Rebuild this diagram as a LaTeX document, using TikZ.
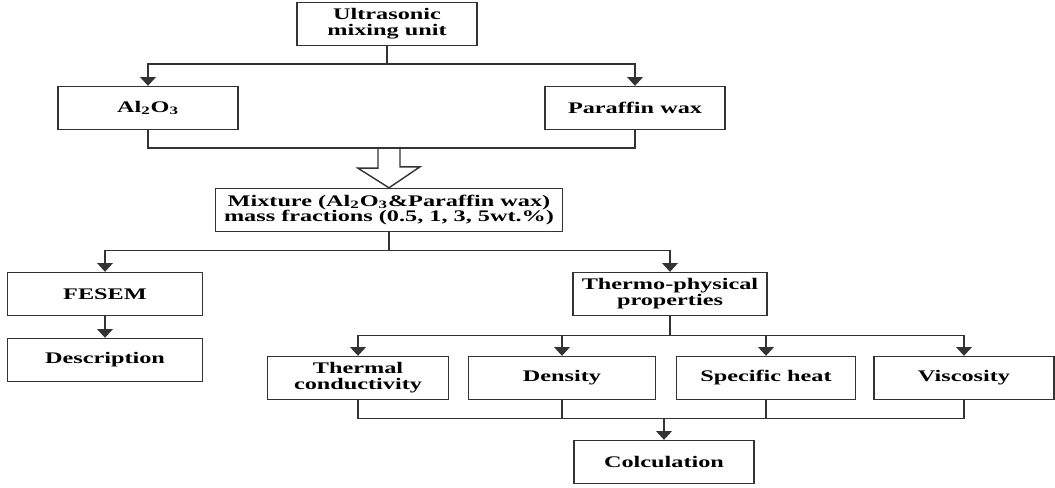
\documentclass[tikz,border=0pt]{standalone}
\usepackage{fontspec}
\setmainfont{Liberation Serif}[FakeStretch=1.5]
\usetikzlibrary{arrows.meta}
\begin{document}
\begin{tikzpicture}[x=0.02cm,y=-0.02cm,
		box/.style={draw=black!80,line width=0.8pt,minimum width=3.6cm,minimum height=0.86cm,align=center,inner sep=1pt,
			font=\fontsize{9.2}{9}\selectfont\bfseries},
		line/.style={draw=black!80,line width=0.8pt},
		arr/.style={line,-{Triangle[width=9pt,length=5pt]}}]
		\useasboundingbox (0,0) rectangle (1055,487);
		\node[box] (ultra) at (387,24) {Ultrasonic\\mixing unit};
		\node[box] (al) at (148,108) {Al\textsubscript{2}O\textsubscript{3}};
		\node[box] (par) at (635,108) {Paraffin wax};
		\node[box,minimum width=6.94cm] (mix) at (389,210) {Mixture (Al\textsubscript{2}O\textsubscript{3}\&Paraffin wax)\\mass fractions (0.5, 1, 3, 5wt.\%)};
		\node[box,minimum width=3.9cm] (fesem) at (105,294) {FESEM};
		\node[box,minimum width=3.9cm] (desc) at (105,360) {Description};
		\node[box,minimum width=3.88cm] (thermo) at (670,294) {Thermo-physical\\properties};
		\node[box,minimum width=3.62cm] (tc) at (358,378) {Thermal\\conductivity};
		\node[box,minimum width=3.74cm] (dens) at (562,378) {Density};
		\node[box,minimum width=3.58cm] (spec) at (766,378) {Specific heat};
		\node[box] (visc) at (964,378) {Viscosity};
		\node[box] (calc) at (664,462) {Colculation};
		% split to the two components
		\draw[line] (ultra.south) -- ++(0,18) coordinate (s1);
		\draw[arr] (s1) -| (al.north);
		\draw[arr] (s1) -| (par.north);
		% merge and hollow arrow
		\draw[line] (al.south) -- ++(0,18) coordinate (m1) -| (par.south);
		\coordinate (tip) at (mix.north);
		\draw[line] (tip |- m1) ++(-11,0) -- ++(0,20) -- ++(-20,0) -- (tip)
			-- ++(31,-21) -- ++(-20,0) -- ++(0,-20);
		% mixture to analysis
		\draw[line] (mix.south) -- ++(0,18) coordinate (s2);
		\draw[arr] (s2) -| (fesem.north);
		\draw[arr] (s2) -| (thermo.north);
		\draw[arr] (fesem) -- (desc);
		% properties
		\draw[line] (thermo.south) -- ++(0,19) coordinate (s3);
		\draw[arr] (s3) -| (tc.north);
		\draw[arr] (s3) -| (dens.north);
		\draw[arr] (s3) -| (spec.north);
		\draw[arr] (s3) -| (visc.north);
		% to calculation
		\draw[line] (tc.south) -- ++(0,18) coordinate (m2) -| (visc.south);
		\draw[line] (dens.south) -- (dens.south |- m2);
		\draw[line] (spec.south) -- (spec.south |- m2);
		\draw[arr] (calc.north |- m2) -- (calc.north);
	\end{tikzpicture}
\end{document}
